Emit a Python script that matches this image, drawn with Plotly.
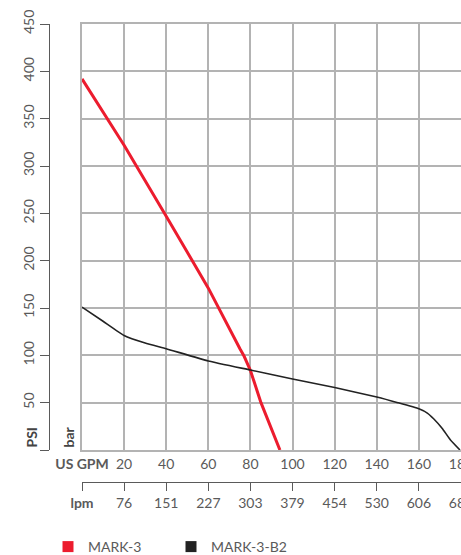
import plotly.graph_objects as go

# ---- data ----
gpm_mark3 = [0, 20, 40, 60, 75, 77, 80, 85, 94]
psi_mark3 = [392, 322, 247, 171, 107, 99, 84, 50, 0]

gpm_b2 = [0, 10, 20, 30, 40, 60, 80, 100, 120, 140, 150, 160, 164, 167, 171, 175, 179.5]
psi_b2 = [151, 136, 121, 113, 107, 94, 84.5, 75, 66, 56, 50, 43.5, 39, 33, 23, 10.6, 0]

gpm_ticks = [0, 20, 40, 60, 80, 100, 120, 140, 160, 180]
gpm_labels = ["<b>US GPM</b>", "20", "40", "60", "80", "100", "120", "140", "160", "180"]
lpm_labels = ["<b>lpm</b>", "76", "151", "227", "303", "379", "454", "530", "606", "681"]

psi_ticks = [0, 50, 100, 150, 200, 250, 300, 350, 400, 450]
psi_labels = ["", "50", "100", "150", "200", "250", "300", "350", "400", "450"]
bar_labels = ["", "3.4", "6.9", "10.3", "13.8", "17.2", "20.7", "24.1", "27.6", "31"]

series_names = ["MARK-3", "MARK-3-B2"]
series_colors = ["#ec1c2e", "#222222"]

W, H = 461, 555
ydom = [(H - 450) / H, (H - 24) / H]
lpm_pos = (H - 482) / H
left_pos = 49 / W
xdom0 = 82 / W

FONT = "Lato"
TICKC = "#5a5a5a"
GRID = "#b3b3b3"

fig = go.Figure()
fig.add_trace(go.Scatter(x=gpm_mark3, y=psi_mark3, mode="lines",
                         line=dict(color=series_colors[0], width=3),
                         showlegend=False, hoverinfo="skip"))
fig.add_trace(go.Scatter(x=gpm_b2, y=psi_b2, mode="lines",
                         line=dict(color=series_colors[1], width=1.6, shape="spline", smoothing=0.4),
                         showlegend=False, hoverinfo="skip"))
for name, col in zip(series_names, series_colors):
    fig.add_trace(go.Scatter(x=[None], y=[None], mode="markers", name=name,
                             marker=dict(symbol="square", size=11, color=col),
                             xaxis="x2", yaxis="y2"))

fig.update_layout(
    width=W, height=H,
    margin=dict(l=0, r=0, t=0, b=0, autoexpand=False),
    paper_bgcolor="white", plot_bgcolor="white",
    font=dict(family=FONT, size=14, color=TICKC),
    xaxis=dict(domain=[xdom0, 1], range=[0, 180], tickmode="array",
               tickvals=gpm_ticks, ticktext=gpm_labels, showgrid=True,
               gridcolor=GRID, gridwidth=1.5, zeroline=False, ticks="",
               showline=True, linecolor=GRID, linewidth=1.5, mirror=True,
               automargin=False, ticklabeloverflow="allow",
               tickfont=dict(family=FONT, size=14, color=TICKC)),
    yaxis=dict(domain=ydom, range=[0, 450], tickmode="array",
               tickvals=psi_ticks, showticklabels=False, showgrid=True,
               gridcolor=GRID, gridwidth=1.5, zeroline=False, ticks="",
               showline=True, linecolor=GRID, linewidth=1.5, mirror=True,
               automargin=False),
    xaxis2=dict(overlaying="x", anchor="free", position=lpm_pos, side="bottom",
                range=[0, 180], tickmode="array", tickvals=gpm_ticks,
                ticktext=lpm_labels, showgrid=False, zeroline=False,
                showline=True, linecolor=TICKC, linewidth=1.2,
                ticks="outside", ticklen=8, tickcolor=TICKC, tickwidth=1.2,
                automargin=False, ticklabeloverflow="allow",
                tickfont=dict(family=FONT, size=14, color=TICKC)),
    xaxis3=dict(overlaying="x", anchor="free", position=lpm_pos, side="bottom",
                range=[0, 180], tickmode="array", tickvals=gpm_ticks,
                showticklabels=False, showgrid=False, zeroline=False,
                showline=False, ticks="inside", ticklen=9, tickcolor=TICKC,
                tickwidth=1.2, automargin=False),
    yaxis2=dict(overlaying="y", anchor="free", position=left_pos, side="left",
                range=[0, 450], tickmode="array", tickvals=psi_ticks,
                ticktext=psi_labels, tickangle=-90, showgrid=False, zeroline=False,
                showline=True, linecolor=TICKC, linewidth=1.2,
                ticks="outside", ticklen=9, tickcolor=TICKC, tickwidth=1.2,
                automargin=False,
                tickfont=dict(family=FONT, size=14, color=TICKC)),
    yaxis3=dict(overlaying="y", anchor="free", position=left_pos, side="right",
                range=[0, 450], tickmode="array", tickvals=psi_ticks,
                ticktext=bar_labels, tickangle=-90, showgrid=False, zeroline=False,
                showline=False, ticks="outside", ticklen=8, tickcolor=TICKC,
                tickwidth=1.2, automargin=False,
                tickfont=dict(family=FONT, size=14, color=TICKC)),
    legend=dict(orientation="h", x=48 / W, xanchor="left",
                y=(H - 547) / H, yanchor="middle",
                font=dict(family=FONT, size=14, color=TICKC),
                entrywidth=78, entrywidthmode="pixels", bgcolor="rgba(0,0,0,0)"),
    annotations=[
        dict(text="<b>PSI</b>", xref="paper", yref="y", x=31 / W, y=0,
             xanchor="center", yanchor="bottom", textangle=-90, showarrow=False,
             font=dict(family=FONT, size=14, color="#444444")),
        dict(text="<b>bar</b>", xref="paper", yref="y", x=68 / W, y=0,
             xanchor="center", yanchor="bottom", textangle=-90, showarrow=False,
             font=dict(family=FONT, size=14, color="#444444")),
    ],
)

fig.write_html(
    "out.html",
    config={"displayModeBar": False},
    post_script="document.body.style.margin='0';document.body.style.overflow='hidden';",
)
